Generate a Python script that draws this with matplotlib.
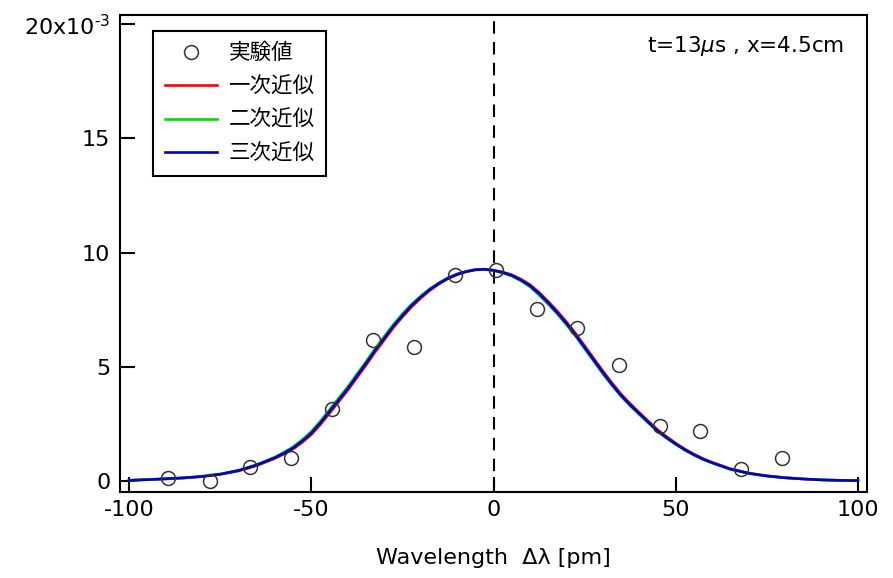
import matplotlib
matplotlib.use('Agg')
import matplotlib.pyplot as plt

plt.rcParams['font.family'] = ['DejaVu Sans', 'Noto Sans CJK JP']
plt.rcParams['mathtext.fontset'] = 'dejavusans'
plt.rcParams['axes.unicode_minus'] = False

# measured points (x in pm, y in units of 1e-3)
exp_x = [-89.2, -77.9, -66.7, -55.5, -44.2, -33.0, -21.8, -10.5,
         0.7, 11.9, 23.0, 34.3, 45.6, 56.8, 67.9, 79.1]
exp_y = [0.14, 0.01, 0.63, 1.00, 3.14, 6.18, 5.88, 9.00,
         9.25, 7.54, 6.71, 5.10, 2.43, 2.19, 0.54, 0.99]

# fitted curves
fit_x = [-100, -95, -90, -85, -80, -75, -70, -65,
         -60, -57.5, -55, -52.5, -50, -47.5, -45, -42.5, -40, -37.5,
         -35, -32.5, -30, -27.5, -25, -22.5, -20, -17.5, -15, -12.5,
         -10, -7.5, -5, -2.5, 0, 2.5, 5, 7.5, 10, 12.5,
         15, 17.5, 20, 22.5, 25, 27.5, 30, 32.5, 35, 37.5,
         40, 42.5, 45, 47.5, 50, 52.5, 55, 57.5, 60,
         65, 70, 75, 80, 85, 90, 95, 100]
fit1_y = [0.03, 0.06, 0.09, 0.13, 0.19, 0.29, 0.44, 0.67,
          0.99, 1.18, 1.40, 1.69, 2.03, 2.47, 2.97, 3.47, 3.97, 4.52,
          5.07, 5.64, 6.17, 6.71, 7.18, 7.62, 8.00, 8.34, 8.62, 8.86,
          9.03, 9.16, 9.24, 9.27, 9.23, 9.15, 9.03, 8.84, 8.60, 8.26,
          7.86, 7.44, 6.97, 6.47, 5.92, 5.37, 4.82, 4.30, 3.81, 3.39,
          3.00, 2.62, 2.25, 1.94, 1.66, 1.40, 1.18, 0.98, 0.82,
          0.54, 0.35, 0.23, 0.15, 0.09, 0.05, 0.03, 0.02]
fit2_y = [0.03, 0.06, 0.10, 0.14, 0.21, 0.31, 0.47, 0.72,
          1.05, 1.26, 1.50, 1.81, 2.17, 2.63, 3.13, 3.63, 4.13, 4.68,
          5.23, 5.80, 6.33, 6.85, 7.32, 7.74, 8.10, 8.42, 8.68, 8.90,
          9.07, 9.18, 9.26, 9.27, 9.21, 9.11, 8.97, 8.76, 8.50, 8.14,
          7.74, 7.31, 6.84, 6.34, 5.79, 5.24, 4.69, 4.18, 3.71, 3.29,
          2.91, 2.54, 2.17, 1.87, 1.60, 1.35, 1.13, 0.94, 0.79,
          0.51, 0.33, 0.22, 0.14, 0.09, 0.05, 0.03, 0.02]
fit3_y = [0.03, 0.06, 0.10, 0.14, 0.20, 0.30, 0.46, 0.70,
          1.02, 1.22, 1.45, 1.75, 2.10, 2.55, 3.05, 3.55, 4.05, 4.60,
          5.15, 5.72, 6.25, 6.78, 7.25, 7.68, 8.05, 8.38, 8.65, 8.88,
          9.05, 9.17, 9.25, 9.27, 9.22, 9.13, 9.00, 8.80, 8.55, 8.20,
          7.80, 7.37, 6.90, 6.40, 5.85, 5.30, 4.75, 4.23, 3.75, 3.33,
          2.95, 2.57, 2.20, 1.90, 1.62, 1.37, 1.15, 0.96, 0.80,
          0.52, 0.34, 0.22, 0.14, 0.09, 0.05, 0.03, 0.02]

x_ticks = [-100, -50, 0, 50, 100]
y_ticks = [0, 5, 10, 15, 20]
y_labels = ['0', '5', '10', '15', r'$\mathregular{20x10^{\text{-}3}}$']

fig = plt.figure(figsize=(8.93, 5.78), dpi=100)
ax = fig.add_axes([0.1344, 0.1488, 0.8365, 0.8252])

ax.axvline(0, color='black', lw=1.5, ls=(0, (6, 4)), zorder=1)

ax.plot(exp_x, exp_y, 'o', ms=10, mfc='none', mec='#333333', mew=1.1,
        label='実験値', zorder=3)
ax.plot(fit_x, fit1_y, color='#ff0000', lw=1.9, label='一次近似', zorder=2)
ax.plot(fit_x, fit2_y, color='#00dd00', lw=1.9, label='二次近似', zorder=2)
ax.plot(fit_x, fit3_y, color='#0000cc', lw=1.9, label='三次近似', zorder=2)

ax.set_xlim(-102.5, 102.5)
ax.set_ylim(-0.48, 20.4)
ax.set_xticks(x_ticks)
ax.set_yticks(y_ticks)
ax.set_yticklabels(y_labels)
ax.tick_params(direction='in', length=11, width=1.5, labelsize=16)
ax.tick_params(axis='y', pad=7)
ax.tick_params(axis='x', pad=6)
for s in ax.spines.values():
    s.set_linewidth(1.5)

ax.set_xlabel('Wavelength  Δλ [pm]', fontsize=16, labelpad=20)

ax.text(0.97, 0.935, r't=13$\mu$s , x=4.5cm', transform=ax.transAxes,
        ha='right', va='center', fontsize=15.5)

leg = ax.legend(loc='upper left', bbox_to_anchor=(0.0442, 0.9665),
                borderaxespad=0, fontsize=15.5, handlelength=2.4,
                handletextpad=0.55, labelspacing=0.62, borderpad=0.55,
                fancybox=False, framealpha=1, edgecolor='black')
leg.get_frame().set_linewidth(1.5)

fig.savefig('out.png', dpi=100)
